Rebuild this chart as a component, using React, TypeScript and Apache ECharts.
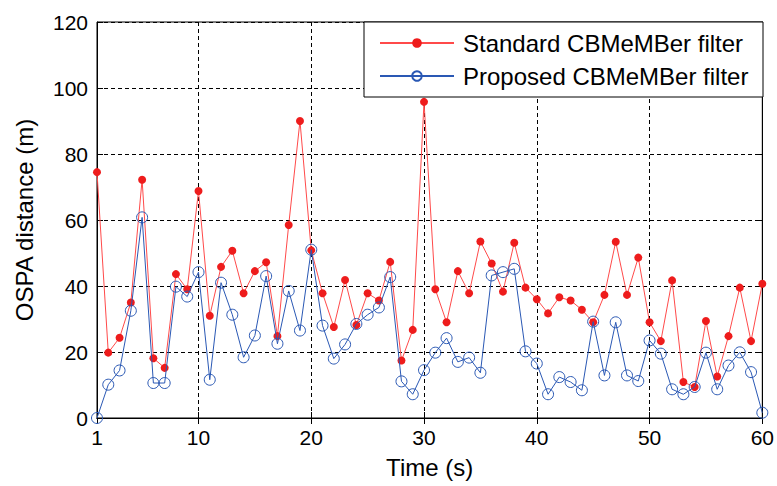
import React, { useEffect, useRef } from "react";
import * as echarts from "echarts";

const times: number[] = Array.from({ length: 60 }, (_, i) => i + 1);

const standardFilter: number[] = [
  74.5, 19.8, 24.3, 35, 72.2, 18.1, 15.2, 43.6, 39, 68.8,
  31, 45.8, 50.7, 37.8, 44.5, 47.2, 24.8, 58.5, 90, 50.8,
  37.8, 27.6, 41.8, 28.2, 37.8, 35.6, 47.3, 17.4, 26.7, 95.8,
  39, 29, 44.5, 37.8, 53.5, 46.8, 38.3, 53.1, 39.5, 36,
  31.7, 36.6, 35.6, 32.8, 29, 37.3, 53.4, 37.3, 48.6, 29,
  23.3, 41.7, 10.9, 9.4, 29.4, 12.6, 24.8, 39.5, 23.3, 40.7,
];

const proposedFilter: number[] = [
  0, 10.1, 14.4, 32.5, 60.8, 10.6, 10.6, 39.8, 36.8, 44.2,
  11.6, 41, 31.3, 18.4, 25, 43, 22.5, 38.5, 26.5, 51,
  28, 18, 22.3, 28.5, 31.3, 33.5, 42.7, 11.1, 7.2, 14.5,
  19.8, 24.2, 17, 18.3, 13.7, 43.2, 44.2, 45.2, 20.2, 16.5,
  7.2, 12.4, 10.9, 8.4, 29.2, 12.9, 29, 12.9, 11.2, 23.5,
  19.5, 8.7, 7.2, 9.4, 19.8, 8.7, 15.9, 19.9, 13.9, 1.6,
];

const xTickLabels: number[] = [1, 10, 20, 30, 40, 50, 60];
const seriesNames: string[] = ["Standard CBMeMBer filter", "Proposed CBMeMBer filter"];

const FONT = "Liberation Sans, Arial, sans-serif";
const RED = "#ee1c1c";
const RED_LINE = "#ff4a4a";
const BLUE = "#2a58b4";

export default function App() {
  const ref = useRef<HTMLDivElement>(null);

  useEffect(() => {
    if (!ref.current) return;
    const chart = echarts.init(ref.current, undefined, { renderer: "svg" });
    const showTick = (_i: number, v: any) => xTickLabels.includes(Number(v));
    const gridLine = { color: "#000", type: [4, 3] as number[], width: 1 };

    chart.setOption({
      animation: false,
      backgroundColor: "#fff",
      textStyle: { fontFamily: FONT, color: "#000" },
      grid: {
        left: 97, right: 14, top: 22, bottom: 68,
        show: true, borderColor: "#000", borderWidth: 1, backgroundColor: "#fff",
      },
      xAxis: [
        {
          type: "category",
          data: times.map(String),
          boundaryGap: false,
          name: "Time (s)",
          nameLocation: "middle",
          nameGap: 37,
          nameTextStyle: { fontSize: 24, color: "#000", fontFamily: FONT },
          axisLine: { show: true, lineStyle: { color: "#000", width: 1 } },
          axisTick: { show: true, inside: true, length: 6, interval: showTick, lineStyle: { color: "#000" } },
          axisLabel: { interval: showTick, fontSize: 21, color: "#000", margin: 9, fontFamily: FONT },
          splitLine: { show: true, interval: showTick, lineStyle: gridLine },
        },
        {
          type: "category",
          data: times.map(String),
          boundaryGap: false,
          position: "top",
          axisLine: { show: true, lineStyle: { color: "#000", width: 1 } },
          axisTick: { show: true, inside: true, length: 6, interval: showTick, lineStyle: { color: "#000" } },
          axisLabel: { show: false },
          splitLine: { show: false },
        },
      ],
      yAxis: [
        {
          type: "value",
          min: 0, max: 120, interval: 20,
          name: "OSPA distance (m)",
          nameLocation: "middle",
          nameGap: 61,
          nameTextStyle: { fontSize: 24, color: "#000", fontFamily: FONT },
          axisLine: { show: true, lineStyle: { color: "#000", width: 1 } },
          axisTick: { show: true, inside: true, length: 6, lineStyle: { color: "#000" } },
          axisLabel: { fontSize: 21, color: "#000", margin: 9, fontFamily: FONT },
          splitLine: { show: true, lineStyle: gridLine },
        },
        {
          type: "value",
          min: 0, max: 120, interval: 20,
          position: "right",
          axisLine: { show: true, lineStyle: { color: "#000", width: 1 } },
          axisTick: { show: true, inside: true, length: 6, lineStyle: { color: "#000" } },
          axisLabel: { show: false },
          splitLine: { show: false },
        },
      ],
      legend: {
        orient: "vertical",
        left: 379,
        top: 31,
        padding: 0,
        itemWidth: 74,
        itemHeight: 12,
        itemGap: 9,
        z: 10,
        textStyle: { fontSize: 24, lineHeight: 24, color: "#000", fontFamily: FONT, padding: [0, 0, 0, 4] },
        data: seriesNames,
      },
      graphic: {
        elements: [
          {
            type: "rect",
            z: 8,
            shape: { x: 364, y: 22, width: 399, height: 75 },
            style: { fill: "#fff", stroke: "#000", lineWidth: 1 },
          },
        ],
      },
      series: [
        {
          name: seriesNames[0],
          type: "line",
          data: standardFilter,
          symbol: "circle",
          symbolSize: 8,
          showAllSymbol: true,
          itemStyle: { color: RED },
          lineStyle: { color: RED_LINE, width: 1 },
          z: 2,
        },
        {
          name: seriesNames[1],
          type: "line",
          data: proposedFilter,
          symbol: "circle",
          symbolSize: 11,
          showAllSymbol: true,
          itemStyle: { color: "rgba(255,255,255,0)", borderColor: BLUE, borderWidth: 1 },
          lineStyle: { color: BLUE, width: 1 },
          z: 3,
        },
      ],
    });
    return () => chart.dispose();
  }, []);

  return (
    <div
      ref={ref}
      style={{ position: "absolute", left: 0, top: 0, width: 777, height: 486 }}
    />
  );
}
